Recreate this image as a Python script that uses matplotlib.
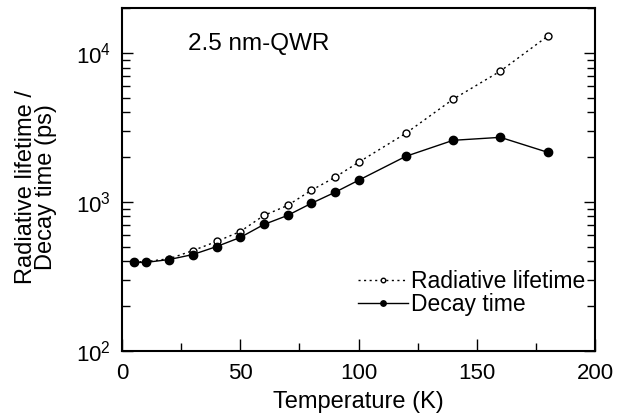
import matplotlib
matplotlib.use("Agg")
import matplotlib.pyplot as plt
from matplotlib.ticker import LogLocator, MultipleLocator, NullFormatter

plt.rcParams['font.family'] = ['Liberation Sans', 'DejaVu Sans']
plt.rcParams['mathtext.fontset'] = 'custom'
plt.rcParams['mathtext.rm'] = 'Liberation Sans'
plt.rcParams['mathtext.it'] = 'Liberation Sans'

temperature = [5, 10, 20, 30, 40, 50, 60, 70, 80, 90, 100, 120, 140, 160, 180]
radiative_lifetime = [395, 397, 415, 471, 542, 632, 811, 946, 1195, 1462, 1845, 2890, 4900, 7570, 13000]
decay_time = [392, 392, 410, 443, 501, 577, 705, 811, 977, 1159, 1397, 2024, 2594, 2716, 2155]

W, H = 626, 419
fig = plt.figure(figsize=(W/100, H/100), dpi=100)
ax = fig.add_axes([122/W, 1 - 350.7/H, (595-122)/W, (350.7-8)/H])

ax.plot(temperature, radiative_lifetime, linestyle=(0, (1.5, 2.5)), color='black', lw=1.0,
        marker='o', markersize=5, markerfacecolor='white', markeredgecolor='black',
        markeredgewidth=1.0, label='Radiative lifetime', zorder=2)
ax.plot(temperature, decay_time, linestyle='-', color='black', lw=1.0,
        marker='o', markersize=6, markerfacecolor='black', markeredgecolor='black',
        label='Decay time', zorder=3)

ax.set_yscale('log')
ax.set_xlim(0, 200)
ax.set_ylim(100, 20100)

ax.xaxis.set_major_locator(MultipleLocator(50))
ax.xaxis.set_minor_locator(MultipleLocator(25))
ax.yaxis.set_major_locator(LogLocator(base=10, numticks=10))
ax.yaxis.set_minor_locator(LogLocator(base=10, subs=range(2, 10), numticks=10))
ax.yaxis.set_minor_formatter(NullFormatter())

ax.tick_params(axis='both', which='both', direction='in', labelsize=16, width=1.0)
ax.tick_params(axis='x', which='major', length=9, pad=9, top=False)
ax.tick_params(axis='x', which='minor', length=6, top=False)
ax.tick_params(axis='y', which='major', length=8, right=True, pad=8)
ax.tick_params(axis='y', which='minor', length=5.5, right=True)

for s in ax.spines.values():
    s.set_linewidth(1.5)

ax.set_xlabel('Temperature (K)', fontsize=17, labelpad=5)
fig.text(36/W, 1 - 187/H, 'Radiative lifetime /\nDecay time (ps)', fontsize=17,
         rotation=90, ha='center', va='center', linespacing=0.92, multialignment='center')

ax.text(0.14, 0.895, '2.5 nm-QWR', transform=ax.transAxes, fontsize=17.5, ha='left', va='center')

leg = ax.legend(loc='upper right', bbox_to_anchor=(585/W, 1 - 270/H), bbox_transform=fig.transFigure,
                frameon=False, fontsize=16.5, handlelength=2.2, handletextpad=0.1,
                labelspacing=0.0, markerscale=0.65, borderaxespad=0, borderpad=0)

fig.savefig('out.png', dpi=100)
